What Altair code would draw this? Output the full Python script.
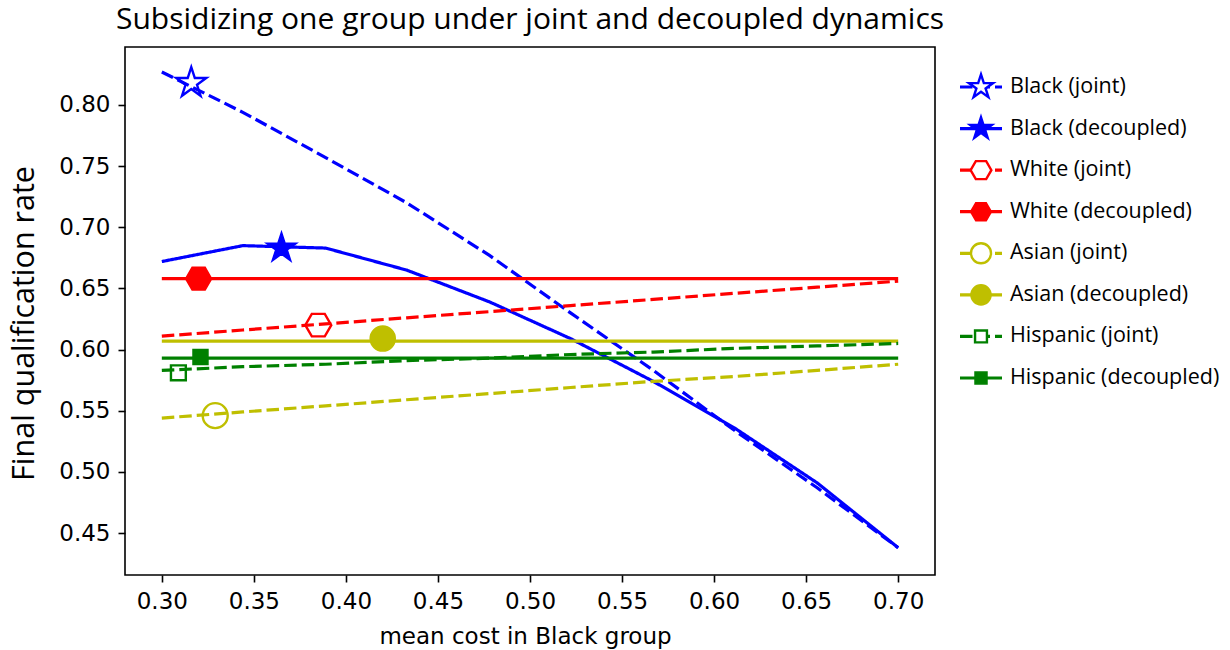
import altair as alt
import pandas as pd

# ---------------- data ----------------
series = ["Black (joint)", "Black (decoupled)", "White (joint)", "White (decoupled)",
          "Asian (joint)", "Asian (decoupled)", "Hispanic (joint)", "Hispanic (decoupled)"]

x_cost = [0.300, 0.344, 0.389, 0.433, 0.478, 0.522, 0.567, 0.611, 0.656, 0.700]

black_joint = [0.827, 0.794, 0.757, 0.720, 0.677, 0.630, 0.583, 0.534, 0.487, 0.438]
black_decoupled = [0.672, 0.685, 0.683, 0.665, 0.639, 0.609, 0.574, 0.536, 0.491, 0.438]
white_joint = [0.611, 0.616, 0.621, 0.626, 0.631, 0.636, 0.641, 0.646, 0.651, 0.656]
white_decoupled = [0.658, 0.658, 0.658, 0.658, 0.658, 0.658, 0.658, 0.658, 0.658, 0.658]
asian_joint = [0.544, 0.549, 0.554, 0.559, 0.564, 0.569, 0.574, 0.578, 0.583, 0.588]
asian_decoupled = [0.607, 0.607, 0.607, 0.607, 0.607, 0.607, 0.607, 0.607, 0.607, 0.607]
hispanic_joint = [0.583, 0.586, 0.588, 0.591, 0.593, 0.596, 0.598, 0.601, 0.603, 0.605]
hispanic_decoupled = [0.593, 0.593, 0.593, 0.593, 0.593, 0.593, 0.593, 0.593, 0.593, 0.593]

marker_x = [0.316, 0.365, 0.385, 0.320, 0.329, 0.420, 0.309, 0.321]
marker_y = [0.818, 0.683, 0.620, 0.658, 0.546, 0.609, 0.581, 0.594]

x_ticks = [0.30, 0.35, 0.40, 0.45, 0.50, 0.55, 0.60, 0.65, 0.70]
y_ticks = [0.45, 0.50, 0.55, 0.60, 0.65, 0.70, 0.75, 0.80]

# ---------------- styles ----------------
colors = ["#0000ff", "#0000ff", "#ff0000", "#ff0000", "#bfbf00", "#bfbf00", "#008000", "#008000"]
dashes = [[12.5, 5], [1, 0]] * 4


def poly(pts, k):
    return "M" + " L".join(f"{x * k:.4f},{y * k:.4f}" for x, y in pts) + " Z"


star_pts = [(0, -1), (0.2245, -0.309), (0.9511, -0.309), (0.3633, 0.118), (0.5878, 0.809),
            (0, 0.382), (-0.5878, 0.809), (-0.3633, 0.118), (-0.9511, -0.309), (-0.2245, -0.309)]
hex_pts = [(-1, 0), (-0.5, -0.866), (0.5, -0.866), (1, 0), (0.5, 0.866), (-0.5, 0.866)]
sq_pts = [(-1, -1), (1, -1), (1, 1), (-1, 1)]


def circ(r):
    return f"M{r},0 A{r},{r} 0 1,1 {-r},0 A{r},{r} 0 1,1 {r},0 Z"


star = poly(star_pts, 1.0)
hexa = poly(hex_pts, 0.82)
circle = circ(0.79)
square = poly(sq_pts, 0.47)
shapes = [star, star, hexa, hexa, circle, circle, square, square]

# ---------------- tables ----------------
all_vals = [black_joint, black_decoupled, white_joint, white_decoupled,
            asian_joint, asian_decoupled, hispanic_joint, hispanic_decoupled]
rows = []
for name, vals in zip(series, all_vals):
    for xv, yv in zip(x_cost, vals):
        rows.append({"series": name, "x": xv, "y": yv})
df_lines = pd.DataFrame(rows)

df_markers = pd.DataFrame({"series": series, "x": marker_x, "y": marker_y,
                           "kind": ["joint", "decoupled"] * 4})
df_legend = pd.DataFrame({"series": series, "kind": ["joint", "decoupled"] * 4})

# ---------------- encodings ----------------
tick_font = "DejaVu Sans"
txt_font = "Open Sans"

X = alt.X("x:Q", scale=alt.Scale(domain=[0.28, 0.72], nice=False, zero=False),
          axis=alt.Axis(values=x_ticks, format=".2f", title="mean cost in Black group",
                        titleFont=tick_font, titleFontSize=23, titleFontWeight="normal",
                        titleColor="black", titleBaseline="alphabetic", titleX=400, titleY=68,
                        titleAnchor="middle", titleAlign="center"))
Y = alt.Y("y:Q", scale=alt.Scale(domain=[0.4157, 0.8474], nice=False, zero=False),
          axis=alt.Axis(values=y_ticks, format=".2f", title="Final qualification rate",
                        titleFont=txt_font, titleFontSize=30.5, titleFontWeight="normal",
                        titleColor="black", titleBaseline="alphabetic", titleAngle=270,
                        titleX=-92, titleY=276, titleAlign="center"))

color = alt.Color("series:N", scale=alt.Scale(domain=series, range=colors), legend=None)
stroke = alt.Stroke("series:N", scale=alt.Scale(domain=series, range=colors), legend=None)
dash = alt.StrokeDash("series:N", scale=alt.Scale(domain=series, range=dashes), legend=None)
shape = alt.Shape("series:N", scale=alt.Scale(domain=series, range=shapes), legend=None)

LW = 3.2

lines = alt.Chart(df_lines).mark_line(strokeWidth=LW, clip=False).encode(
    x=X, y=Y, color=color, strokeDash=dash)

open_markers = alt.Chart(df_markers).transform_filter(alt.datum.kind == "joint").mark_point(
    filled=False, size=1000, strokeWidth=2.4, opacity=1).encode(
    x=X, y=Y, color=color, shape=shape)

filled_markers = alt.Chart(df_markers).transform_filter(alt.datum.kind == "decoupled").mark_point(
    filled=True, size=1000, strokeWidth=1.6, opacity=1).encode(
    x=X, y=Y, color=color, stroke=stroke, shape=shape)

plot = alt.layer(lines, open_markers, filled_markers)

# ---------------- legend (drawn with marks) ----------------
LY = alt.Y("series:N", scale=alt.Scale(type="point", domain=series, range=[40, 331], padding=0),
           axis=None)

leg_lines = alt.Chart(df_legend).mark_rule(strokeWidth=LW).encode(
    x=alt.value(835), x2=alt.value(877), y=LY, color=color, strokeDash=dash)
leg_open = alt.Chart(df_legend).transform_filter(alt.datum.kind == "joint").mark_point(
    filled=False, size=640, strokeWidth=2.4, opacity=1, fill="white").encode(
    x=alt.value(856), y=LY, color=color, shape=shape)
leg_filled = alt.Chart(df_legend).transform_filter(alt.datum.kind == "decoupled").mark_point(
    filled=True, size=640, strokeWidth=1.6, opacity=1).encode(
    x=alt.value(856), y=LY, color=color, stroke=stroke, shape=shape)
leg_text = alt.Chart(df_legend).mark_text(
    align="left", baseline="middle", font=txt_font, fontSize=21.5, color="black").encode(
    x=alt.value(885), y=LY, text="series:N")

legend = alt.layer(leg_lines, leg_open, leg_filled, leg_text)

chart = alt.layer(plot, legend).resolve_scale(y="independent").properties(
    width=810, height=528,
    title=alt.TitleParams(text="Subsidizing one group under joint and decoupled dynamics",
                          font=txt_font, fontSize=30, fontWeight="normal", color="black",
                          anchor="middle", baseline="alphabetic", offset=-12),
    autosize=alt.AutoSizeParams(type="none"),
    padding={"left": 125, "top": 47, "right": 295, "bottom": 75},
    background="white",
).configure_view(stroke="black", strokeWidth=1.6).configure_axis(
    grid=False, domain=False, ticks=True, tickSize=7, tickWidth=1.6, tickColor="black",
    labelFont=tick_font, labelFontSize=23, labelColor="black", labelPadding=8,
)

chart.save("out.html", embed_options={"renderer": "svg", "actions": False})
